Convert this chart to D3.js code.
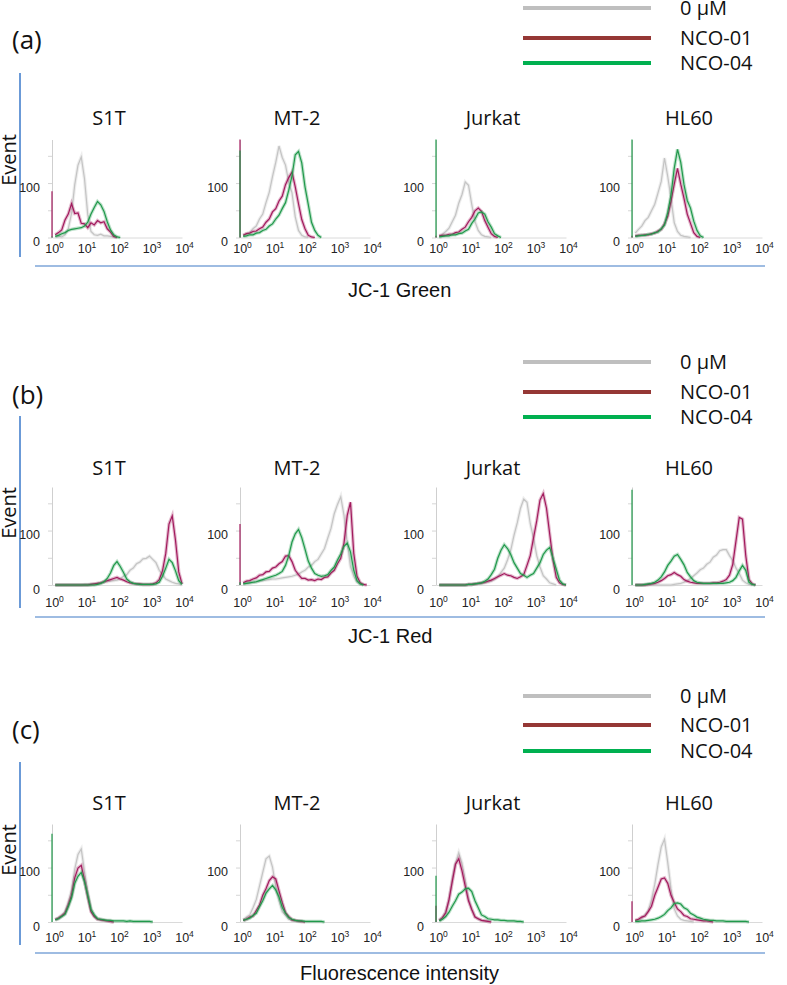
<!DOCTYPE html>
<html lang="en">
<head>
<meta charset="UTF-8">
<title>JC-1 staining histograms</title>
<script src="https://d3js.org/d3.v7.min.js"></script>
<style>
  body { margin: 0; background: #fff; }
</style>
</head>
<body>
<script>
const cells = ["S1T", "MT-2", "Jurkat", "HL60"];
const panelLetters = ["(a)", "(b)", "(c)"];
const axisTitles = ["JC-1 Green", "JC-1 Red", "Fluorescence intensity"];
const legendLabels = ["0 \u00b5M", "NCO-01", "NCO-04"];
const xTicks = [1, 10, 100, 1000, 10000];
const yTicks = [0, 50, 100, 150];
const yLabels = [0, 100];

// histogram channels, log10 of intensity (10^0 .. 10^4)
const channelLog = [0, 0.1, 0.2, 0.3, 0.4, 0.5, 0.6, 0.7, 0.8, 0.9, 1, 1.1, 1.2, 1.3, 1.4, 1.5, 1.6, 1.7, 1.8, 1.9,
  2, 2.1, 2.2, 2.3, 2.4, 2.5, 2.6, 2.7, 2.8, 2.9, 3, 3.1, 3.2, 3.3, 3.4, 3.5, 3.6, 3.7, 3.8, 3.9, 4];

// event counts per channel, one array per cell line (S1T, MT-2, Jurkat, HL60)
// (a) JC-1 Green
const greenCtrl = [
  [0, 1, 2, 1, 5, 16, 44, 97, 133, 148, 108, 42, 11, 5, 4, 6, 3, 3, 2, 1, 0],
  [0, 3, 7, 9, 16, 21, 34, 43, 64, 83, 112, 138, 168, 147, 133, 102, 82, 38, 13, 4, 1, 0],
  [0, 3, 6, 11, 17, 29, 41, 63, 79, 102, 96, 61, 29, 13, 5, 2, 1, 0],
  [0, 8, 15, 21, 31, 37, 49, 61, 82, 103, 146, 112, 72, 27, 11, 4, 2, 1, 0]
];
const greenNco01 = [
  [85, 5, 9, 14, 32, 43, 62, 44, 45, 26, 25, 18, 27, 23, 31, 27, 29, 16, 10, 2, 0],
  [180, 4, 7, 8, 11, 12, 16, 19, 28, 34, 47, 53, 67, 76, 97, 110, 120, 93, 62, 33, 16, 4, 1, 0],
  [3, 3, 4, 4, 6, 6, 9, 10, 15, 19, 29, 37, 49, 54, 48, 31, 19, 7, 2, 0],
  [3, 3, 4, 4, 5, 5, 7, 8, 12, 15, 25, 39, 67, 98, 127, 98, 72, 43, 26, 9, 2, 0]
];
const greenNco04 = [
  [2, 2, 4, 7, 9, 13, 15, 16, 17, 18, 21, 28, 43, 55, 66, 60, 48, 29, 14, 5, 1, 0],
  [160, 2, 3, 5, 5, 8, 9, 13, 15, 21, 25, 34, 41, 53, 64, 87, 113, 152, 158, 137, 93, 61, 28, 13, 4, 0],
  [180, 1, 2, 3, 3, 5, 5, 7, 8, 12, 15, 26, 34, 45, 47, 43, 29, 19, 7, 3, 0],
  [180, 2, 3, 4, 4, 6, 6, 9, 10, 16, 23, 46, 78, 127, 162, 138, 97, 68, 54, 30, 13, 3, 0]
];

// (b) JC-1 Red
const redCtrl = [
  [0, 0, 0, 0, 0, 0, 0, 0, 0, 0, 1, 1, 2, 2, 3, 4, 5, 6, 7, 8, 9, 11, 16, 19, 27, 31, 39, 42, 48, 49, 53, 47, 41, 27, 19, 11, 8, 5, 3, 2, 0],
  [0, 2, 3, 4, 5, 6, 7, 8, 9, 10, 11, 11, 12, 13, 14, 15, 16, 18, 20, 24, 27, 33, 36, 43, 47, 57, 67, 86, 104, 131, 148, 162, 128, 77, 34, 16, 5, 2, 0],
  [0, 0, 0, 0, 0, 0, 0, 0, 0, 0, 1, 1, 2, 2, 3, 4, 5, 7, 10, 15, 23, 31, 46, 64, 91, 114, 141, 158, 152, 113, 86, 54, 33, 17, 11, 4, 2, 0],
  [0, 0, 0, 0, 0, 0, 0, 0, 0, 0, 0, 0, 0, 1, 2, 3, 5, 8, 12, 17, 22, 28, 31, 38, 42, 51, 55, 63, 65, 65, 54, 45, 31, 21, 9, 4, 1, 0]
];
const redNco01 = [
  [0, 0, 0, 0, 0, 0, 0, 0, 0, 0, 0, 0, 1, 2, 3, 4, 6, 8, 10, 12, 14, 11, 9, 6, 4, 3, 2, 2, 1, 1, 1, 2, 4, 10, 26, 58, 112, 127, 82, 24, 2],
  [112, 4, 7, 8, 11, 13, 18, 19, 24, 25, 31, 33, 39, 43, 53, 54, 43, 27, 19, 12, 12, 9, 10, 8, 11, 10, 14, 15, 22, 27, 39, 49, 77, 128, 152, 58, 16, 4, 1, 0],
  [0, 0, 0, 0, 0, 0, 0, 0, 0, 0, 1, 1, 2, 3, 4, 5, 7, 9, 12, 15, 18, 21, 18, 17, 14, 12, 15, 19, 36, 54, 86, 118, 156, 168, 141, 93, 46, 14, 4, 1, 0],
  [0, 0, 0, 0, 0, 1, 2, 3, 5, 8, 12, 17, 19, 23, 19, 16, 10, 7, 5, 4, 3, 3, 3, 3, 3, 4, 4, 5, 7, 10, 18, 38, 81, 124, 121, 54, 10, 2, 0]
];
const redNco04 = [
  [0, 0, 0, 0, 0, 0, 0, 0, 0, 0, 0, 0, 0, 0, 1, 3, 6, 12, 22, 36, 43, 34, 23, 11, 6, 3, 2, 1, 1, 1, 1, 1, 2, 5, 16, 31, 47, 41, 26, 8, 1],
  [5, 2, 3, 4, 5, 6, 8, 10, 12, 14, 16, 18, 21, 25, 36, 54, 79, 94, 102, 87, 66, 44, 31, 21, 18, 16, 17, 19, 27, 33, 46, 57, 71, 77, 61, 27, 8, 2, 0],
  [0, 0, 0, 0, 0, 0, 0, 0, 0, 0, 1, 1, 2, 3, 4, 7, 11, 19, 29, 49, 64, 74, 67, 56, 41, 31, 21, 18, 14, 18, 21, 31, 41, 56, 64, 69, 49, 29, 9, 2, 0],
  [175, 0, 0, 0, 1, 2, 3, 5, 9, 15, 24, 36, 44, 53, 56, 47, 37, 23, 15, 8, 5, 4, 3, 3, 3, 3, 3, 3, 3, 4, 5, 8, 14, 26, 36, 27, 5, 1, 0]
];

// (c) Fluorescence intensity
const fluoCtrl = [
  [0, 5, 8, 13, 19, 36, 58, 97, 124, 134, 93, 56, 24, 11, 6, 4, 3, 2, 1, 0],
  [0, 4, 9, 13, 26, 41, 66, 91, 116, 121, 101, 64, 39, 19, 12, 5, 3, 2, 1, 0],
  [0, 3, 8, 19, 39, 79, 108, 127, 108, 77, 44, 23, 10, 5, 3, 2, 1, 0],
  [0, 2, 4, 7, 13, 21, 41, 69, 106, 138, 152, 109, 61, 24, 11, 5, 3, 2, 1, 0]
];
const fluoNco01 = [
  [0, 4, 7, 11, 16, 31, 49, 81, 99, 104, 77, 46, 19, 10, 5, 4, 3, 2, 1, 0],
  [0, 3, 5, 9, 11, 21, 31, 49, 61, 76, 83, 79, 57, 36, 17, 10, 4, 3, 2, 1, 0],
  [30, 3, 8, 17, 41, 74, 106, 116, 94, 66, 39, 23, 9, 6, 3, 2, 1, 0],
  [38, 3, 5, 9, 11, 19, 29, 49, 64, 79, 81, 71, 49, 36, 24, 19, 12, 10, 6, 5, 4, 3, 2, 2, 1, 0]
];
const fluoNco04 = [
  [162, 4, 6, 10, 14, 28, 44, 71, 84, 91, 74, 49, 23, 13, 6, 5, 4, 3, 3, 2, 2, 2, 2, 1, 2, 1, 1, 1, 1, 1, 1, 0],
  [0, 3, 5, 7, 12, 16, 28, 39, 53, 61, 67, 59, 46, 27, 16, 8, 5, 3, 2, 2, 1, 1, 1, 1, 1, 1, 0],
  [85, 2, 5, 10, 18, 29, 39, 51, 55, 61, 62, 56, 39, 26, 13, 10, 6, 5, 4, 4, 3, 3, 2, 2, 2, 1, 1, 0],
  [0, 1, 1, 2, 2, 3, 4, 5, 7, 10, 14, 21, 26, 34, 35, 33, 26, 23, 16, 13, 9, 7, 5, 4, 3, 3, 2, 2, 2, 1, 1, 1, 1, 1, 1, 1, 0]
];

const seriesSets = [
  [greenCtrl, greenNco01, greenNco04],
  [redCtrl, redNco01, redNco04],
  [fluoCtrl, fluoNco01, fluoNco04]
];

// drawing setup
const traceColors = ["#c4c4c4", "#a21a5d", "#20994b"];
const legendColors = ["#bfbfbf", "#953735", "#00b050"];
const sansFont = "'Open Sans', 'Noto Sans', sans-serif";
const arialFont = "'Liberation Sans', Arial, sans-serif";
const origins = [52, 240, 436, 632];
const plotW = 130, plotH = 98, yMax = 180;

const layout = [
  { legend: [8, 38, 63], letterY: 49, vLine: [73, 257], titleY: 125, base: 237.5, tickY: 253, hLine: 266, titleX: 348, axisY: 297, eventY: 160 },
  { legend: [362, 392, 417], letterY: 404, vLine: [416, 608], titleY: 475, base: 585, tickY: 607, hLine: 617, titleX: 348, axisY: 643, eventY: 513 },
  { legend: [696, 725, 751], letterY: 739, vLine: [762, 945], titleY: 810, base: 922, tickY: 942, hLine: 953, titleX: 300, axisY: 980, eventY: 850 }
];

const svg = d3.select("body").append("svg")
  .attr("width", 787)
  .attr("height", 985);

layout.forEach((p, pi) => {
  const g = svg.append("g");

  // legend
  legendLabels.forEach((lab, i) => {
    g.append("line")
      .attr("x1", 523).attr("x2", 651)
      .attr("y1", p.legend[i]).attr("y2", p.legend[i])
      .attr("stroke", legendColors[i])
      .attr("stroke-width", 4);
    g.append("text")
      .attr("x", 680).attr("y", p.legend[i] + 7)
      .attr("font-family", sansFont)
      .attr("font-size", 20)
      .attr("fill", "#111")
      .text(lab);
  });

  g.append("text")
    .attr("x", 12).attr("y", p.letterY)
    .attr("font-family", sansFont)
    .attr("font-size", 26)
    .attr("fill", "#111")
    .text(panelLetters[pi]);

  // blue frame lines
  g.append("line")
    .attr("x1", 20).attr("x2", 20)
    .attr("y1", p.vLine[0]).attr("y2", p.vLine[1])
    .attr("stroke", "#5b8fd3").attr("stroke-width", 1.8);
  g.append("line")
    .attr("x1", 35).attr("x2", 765)
    .attr("y1", p.hLine).attr("y2", p.hLine)
    .attr("stroke", "#7ea6d8").attr("stroke-width", 1.5);

  g.append("text")
    .attr("transform", `translate(16,${p.eventY}) rotate(-90)`)
    .attr("text-anchor", "middle")
    .attr("font-family", sansFont)
    .attr("font-size", 20)
    .attr("fill", "#111")
    .text("Event");

  g.append("text")
    .attr("x", p.titleX).attr("y", p.axisY)
    .attr("font-family", arialFont)
    .attr("font-size", 20)
    .attr("fill", "#111")
    .text(axisTitles[pi]);

  cells.forEach((cell, ci) => {
    const ox = origins[ci];
    const x = d3.scaleLog().domain([1, 10000]).range([ox, ox + plotW]);
    const y = d3.scaleLinear().domain([0, yMax]).range([p.base, p.base - plotH]);

    g.append("text")
      .attr("x", ox + 57).attr("y", p.titleY)
      .attr("text-anchor", "middle")
      .attr("font-family", sansFont)
      .attr("font-size", 20)
      .attr("fill", "#111")
      .text(cell);

    // x axis
    const xa = g.append("g")
      .attr("transform", `translate(0,${p.base})`)
      .call(d3.axisBottom(x).tickValues(xTicks).tickSize(0).tickFormat(""));
    xa.select(".domain").attr("stroke", "#dadada");
    xa.selectAll(".tick text").remove();
    xa.selectAll(".tick").each(function (d) {
      const t = d3.select(this).append("text")
        .attr("y", p.tickY - p.base)
        .attr("x", 2)
        .attr("text-anchor", "middle")
        .attr("font-family", arialFont)
        .attr("font-size", 12.5)
        .attr("fill", "#222");
      t.append("tspan").text("10");
      t.append("tspan")
        .attr("dy", -5)
        .attr("font-size", 8.5)
        .text(Math.round(Math.log10(d)));
    });

    // y axis
    const ya = g.append("g")
      .attr("transform", `translate(${ox},0)`)
      .call(d3.axisLeft(y).tickValues(yTicks).tickSize(4).tickSizeOuter(0).tickPadding(8)
        .tickFormat(d => yLabels.includes(d) ? d : ""));
    ya.select(".domain").attr("stroke", "#cfcfcf");
    ya.selectAll(".tick line").attr("stroke", "#d6d6d6");
    ya.selectAll(".tick text")
      .attr("y", 4)
      .attr("font-family", arialFont)
      .attr("font-size", 12.5)
      .attr("fill", "#222");

    const line = d3.line()
      .x(d => x(Math.pow(10, d[0])))
      .y(d => y(Math.min(d[1], yMax)));

    seriesSets[pi].forEach((set, si) => {
      const vals = set[ci];
      const pts = vals.map((v, i) => [channelLog[i], v]);
      const col = traceColors[si];
      // first channel sits on the axis: vertical spike
      if (vals[0] > 0) {
        g.append("line")
          .attr("x1", x(1)).attr("x2", x(1))
          .attr("y1", y(0)).attr("y2", y(Math.min(vals[0], yMax)))
          .attr("stroke", col).attr("stroke-width", 1.2);
      }
      g.append("path")
        .datum(pts.slice(1))
        .attr("d", line)
        .attr("fill", "none")
        .attr("stroke", col)
        .attr("stroke-opacity", 0.3)
        .attr("stroke-width", 3.4);
      g.append("path")
        .datum(pts.slice(1))
        .attr("d", line)
        .attr("fill", "none")
        .attr("stroke", col)
        .attr("stroke-width", 1.2);
    });
  });
});
</script>
</body>
</html>
